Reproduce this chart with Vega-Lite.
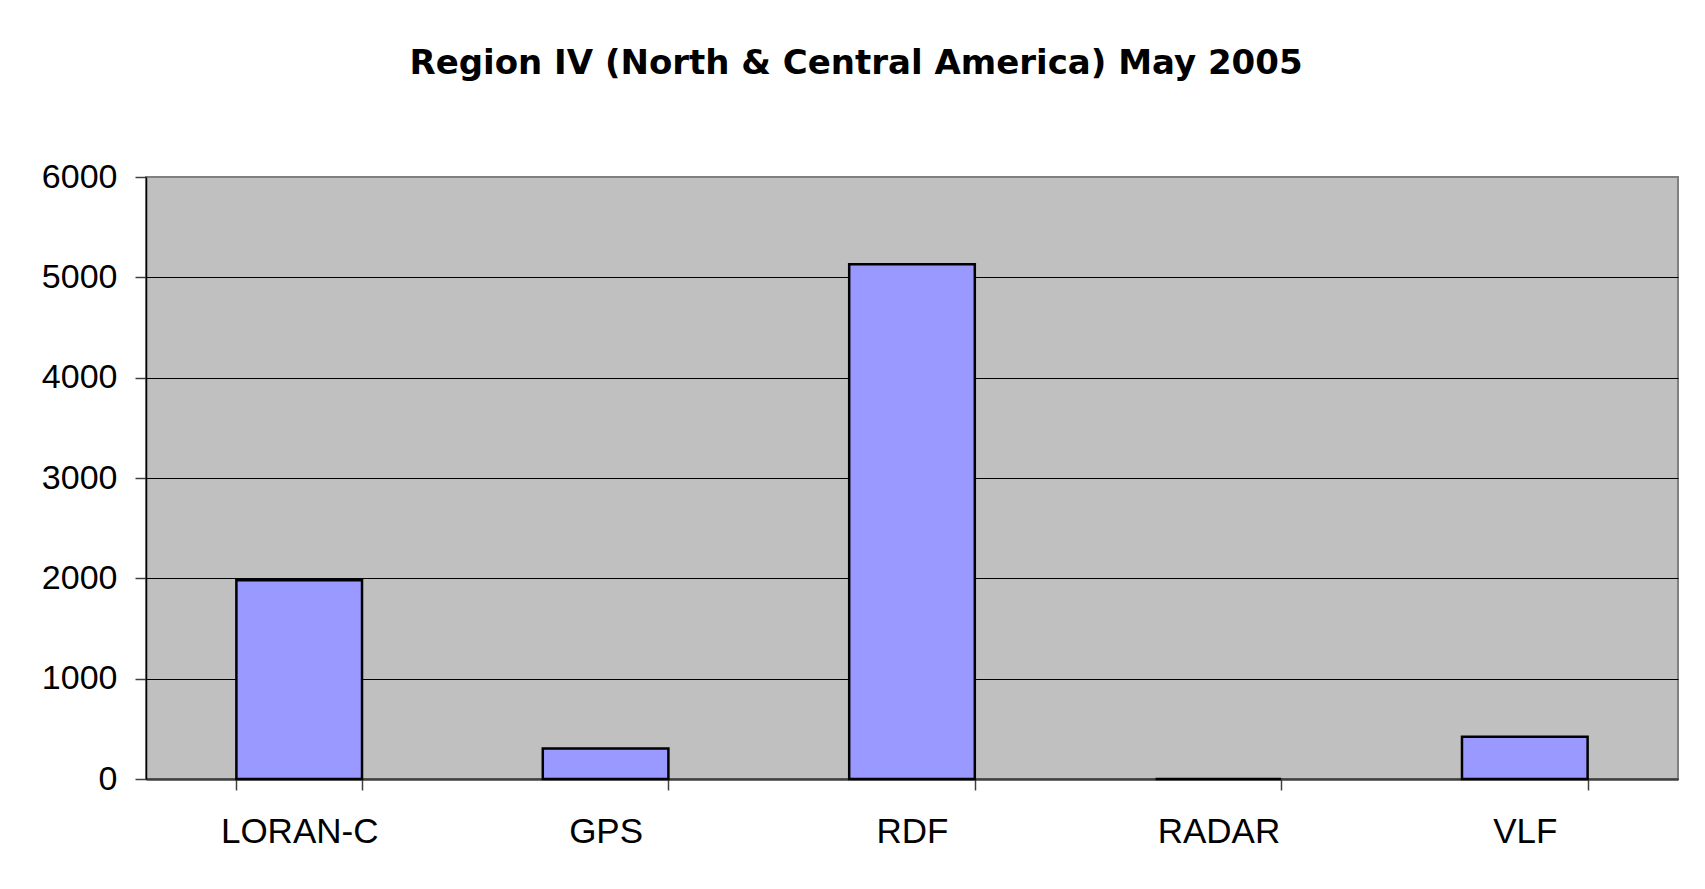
{
  "$schema": "https://vega.github.io/schema/vega-lite/v6.json",
  "width": 1532,
  "height": 602,
  "autosize": {"type": "none"},
  "padding": {"left": 146, "top": 177, "right": 27, "bottom": 110},
  "background": "white",
  "title": {
    "text": "Region IV (North & Central America) May 2005",
    "font": "DejaVu Sans",
    "fontSize": 34,
    "fontWeight": "bold",
    "color": "black",
    "anchor": "middle",
    "frame": "group",
    "dx": -56,
    "offset": 79
  },
  "data": {
    "values": [
      {"system": "LORAN-C", "count": 1980},
      {"system": "GPS", "count": 305},
      {"system": "RDF", "count": 5130},
      {"system": "RADAR", "count": 0},
      {"system": "VLF", "count": 420}
    ]
  },
  "mark": {"type": "bar", "fill": "#9999FF", "stroke": "black", "strokeWidth": 2.5},
  "encoding": {
    "x": {
      "field": "system",
      "type": "nominal",
      "sort": null,
      "scale": {"paddingInner": 0.59, "paddingOuter": 0.295},
      "axis": {
        "title": null,
        "labelAngle": 0,
        "tickBand": "extent",
        "grid": false,
        "domainColor": "#404040",
        "domainWidth": 2.5,
        "tickColor": "#404040",
        "tickWidth": 1.5,
        "tickSize": 11,
        "labelFont": "Liberation Sans",
        "labelFontSize": 35,
        "labelColor": "black",
        "labelPadding": 24
      }
    },
    "y": {
      "field": "count",
      "type": "quantitative",
      "scale": {"domain": [0, 6000], "nice": false},
      "axis": {
        "title": null,
        "format": "d",
        "values": [0, 1000, 2000, 3000, 4000, 5000, 6000],
        "grid": true,
        "gridColor": {"condition": {"test": "datum.value === 6000", "value": "#808080"}, "value": "black"},
        "gridWidth": 1,
        "domainColor": "black",
        "domainWidth": 1.5,
        "tickColor": "#404040",
        "tickWidth": 1.5,
        "tickSize": 11,
        "labelFont": "Liberation Sans",
        "labelFontSize": 34,
        "labelColor": "black",
        "labelPadding": 18
      }
    }
  },
  "config": {
    "font": "Liberation Sans",
    "view": {"fill": "#C0C0C0", "stroke": "#808080", "strokeWidth": 2}
  }
}
